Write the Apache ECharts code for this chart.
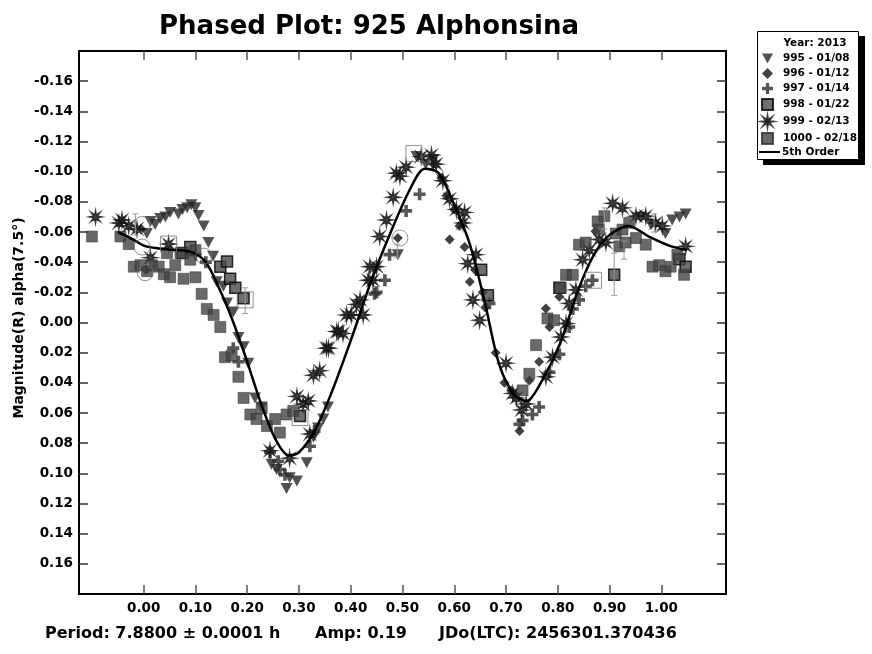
<!DOCTYPE html>
<html>
<head>
<meta charset="utf-8">
<script src="https://cdn.jsdelivr.net/npm/echarts@6/dist/echarts.min.js"></script>
<style>
html,body{margin:0;padding:0;background:#fff;}
#main{width:872px;height:654px;}
</style>
</head>
<body>
<div id="main"></div>
<script>
// phase / magnitude pairs
var pts995 = [[0.006,-0.059],[0.013,-0.067],[0.022,-0.065],[0.032,-0.069],[0.042,-0.070],[0.051,-0.073],[0.067,-0.072],[0.075,-0.075],
  [0.084,-0.076],[0.092,-0.078],[0.100,-0.076],[0.106,-0.071],[0.116,-0.064],[0.125,-0.053],[0.134,-0.044],[0.141,-0.027],
  [0.154,-0.024],[0.161,-0.013],[0.173,-0.007],[0.183,0.010],[0.193,0.016],[0.202,0.027],[0.215,0.050],[0.228,0.056],
  [0.247,0.094],[0.257,0.0975],[0.276,0.110],[0.282,0.103],[0.296,0.105],[0.315,0.093],[0.328,0.076],[0.337,0.070],
  [0.347,0.064],[0.356,0.056],[0.491,-0.045],[0.527,-0.110],[0.545,-0.105],[0.560,-0.108],[0.960,-0.070],[0.980,-0.065],
  [1.008,-0.059],[1.021,-0.068],[1.035,-0.070],[1.047,-0.072]];
var pts996 = [[-0.005,-0.062],[0.005,-0.035],[0.491,-0.056],[0.560,-0.105],[0.575,-0.096],[0.585,-0.084],[0.591,-0.055],
  [0.600,-0.075],[0.610,-0.064],[0.620,-0.050],[0.630,-0.027],[0.640,-0.035],[0.655,-0.020],[0.660,-0.010],[0.680,0.020],
  [0.697,0.040],[0.710,0.045],[0.726,0.072],[0.745,0.0385],[0.764,0.026],[0.777,-0.0093],[0.784,0.003],[0.803,-0.017],[0.873,-0.0605]];
var pts997 = [[0.100,-0.045],[0.120,-0.040],[0.173,0.017],[0.183,0.026],[0.244,0.086],[0.260,0.092],[0.263,0.0975],[0.273,0.101],
  [0.321,0.082],[0.330,0.072],[0.446,-0.019],[0.450,-0.020],[0.466,-0.028],[0.475,-0.045],[0.507,-0.074],[0.533,-0.085],
  [0.668,-0.0127],[0.726,0.0675],[0.732,0.065],[0.751,0.061],[0.764,0.056],[0.784,0.033],[0.803,0.021],[0.822,0.003],
  [0.829,-0.009],[0.841,-0.015],[0.854,-0.024],[0.867,-0.028]];
var pts998 = [[0.075,-0.046],[0.090,-0.050],[0.148,-0.037],[0.161,-0.0405],[0.167,-0.029],[0.177,-0.023],[0.193,-0.016],
  [0.302,0.062],[0.652,-0.035],[0.665,-0.018],[0.803,-0.023],[0.909,-0.0316],[1.035,-0.042],[1.047,-0.037]];
var pts999 = [[-0.093,-0.070],[-0.048,-0.066],[-0.042,-0.068],[-0.029,-0.064],[-0.013,-0.062],[0.013,-0.043],[0.048,-0.052],
  [0.244,0.085],[0.282,0.090],[0.296,0.049],[0.308,0.054],[0.318,0.052],[0.321,0.074],[0.328,0.035],[0.340,0.032],
  [0.353,0.017],[0.357,0.017],[0.373,0.006],[0.376,0.006],[0.385,0.0073],[0.392,-0.005],[0.401,-0.005],[0.411,-0.012],
  [0.418,-0.015],[0.424,-0.005],[0.434,-0.028],[0.437,-0.037],[0.443,-0.028],[0.450,-0.037],[0.456,-0.057],[0.469,-0.068],
  [0.482,-0.083],[0.488,-0.099],[0.495,-0.097],[0.507,-0.103],[0.536,-0.110],[0.556,-0.111],[0.565,-0.105],[0.578,-0.094],
  [0.591,-0.082],[0.604,-0.075],[0.617,-0.066],[0.620,-0.073],[0.626,-0.039],[0.636,-0.015],[0.642,-0.045],[0.649,-0.0015],
  [0.700,0.027],[0.713,0.047],[0.720,0.050],[0.730,0.058],[0.739,0.054],[0.777,0.036],[0.790,0.023],[0.806,0.0096],
  [0.816,0.0007],[0.822,-0.0127],[0.835,-0.0216],[0.848,-0.0416],[0.861,-0.048],[0.880,-0.055],[0.893,-0.053],[0.906,-0.079],
  [0.925,-0.076],[0.951,-0.0705],[0.970,-0.0705],[0.989,-0.066],[1.002,-0.064],[1.047,-0.0505]];
var pts1000 = [[-0.100,-0.057],[-0.045,-0.057],[-0.029,-0.052],[-0.019,-0.037],[-0.006,-0.038],[0.0065,-0.034],[0.016,-0.038],
  [0.029,-0.037],[0.039,-0.032],[0.045,-0.046],[0.051,-0.030],[0.061,-0.038],[0.071,-0.046],[0.077,-0.029],[0.090,-0.0416],
  [0.100,-0.030],[0.100,-0.048],[0.112,-0.019],[0.122,-0.009],[0.135,-0.005],[0.148,0.003],[0.157,0.023],[0.170,0.022],
  [0.183,0.036],[0.193,0.050],[0.206,0.061],[0.218,0.064],[0.228,0.057],[0.238,0.0686],[0.254,0.064],[0.263,0.073],
  [0.276,0.061],[0.289,0.0586],[0.732,0.045],[0.745,0.034],[0.758,0.015],[0.780,-0.0027],[0.793,-0.0015],[0.806,-0.023],
  [0.816,-0.0316],[0.829,-0.0316],[0.841,-0.0516],[0.854,-0.053],[0.877,-0.067],[0.880,-0.0616],[0.890,-0.0705],[0.912,-0.059],
  [0.919,-0.0505],[0.925,-0.0616],[0.931,-0.053],[0.938,-0.066],[0.951,-0.056],[0.970,-0.0516],[0.983,-0.037],[0.996,-0.038],
  [1.008,-0.034],[1.018,-0.037],[1.031,-0.045],[1.044,-0.0316]];
// 5th order fit curve
var fitPts = [[-0.050,-0.060],[-0.020,-0.055],[0.000,-0.051],[0.030,-0.049],[0.060,-0.048],[0.090,-0.047],[0.120,-0.040],
  [0.148,-0.021],[0.170,-0.003],[0.196,0.022],[0.225,0.052],[0.254,0.077],[0.280,0.088],[0.300,0.086],[0.330,0.072],
  [0.360,0.049],[0.400,0.012],[0.437,-0.025],[0.475,-0.058],[0.514,-0.088],[0.543,-0.102],[0.570,-0.099],[0.600,-0.078],
  [0.630,-0.052],[0.658,-0.015],[0.687,0.028],[0.716,0.048],[0.740,0.052],[0.764,0.042],[0.803,0.015],[0.840,-0.022],
  [0.870,-0.045],[0.900,-0.058],[0.937,-0.064],[0.976,-0.057],[1.015,-0.051],[1.050,-0.048]];
// flagged points (open rings / boxes) and error bars [x, lo, hi]
var ringPts = [[-0.003,-0.065],[-0.003,-0.050],[0.003,-0.033],[0.116,-0.044],[0.495,-0.056]];
var boxPts = [[0.048,-0.052],[0.196,-0.015],[0.302,0.063],[0.522,-0.112],[0.869,-0.028]];
var errBars = [[-0.016,-0.072,-0.058],[0.196,-0.023,-0.006],[0.490,-0.052,-0.043],[0.890,-0.076,-0.062],
  [0.909,-0.046,-0.018],[0.928,-0.054,-0.042],[0.986,-0.072,-0.060]];

var xTicks = [0,0.1,0.2,0.3,0.4,0.5,0.6,0.7,0.8,0.9,1.0];
var yTicks = [-0.16,-0.14,-0.12,-0.10,-0.08,-0.06,-0.04,-0.02,0,0.02,0.04,0.06,0.08,0.10,0.12,0.14,0.16];
var seriesNames = ['995 - 01/08','996 - 01/12','997 - 01/14','998 - 01/22','999 - 02/13','1000 - 02/18','5th Order'];

var FONT = '"DejaVu Sans", sans-serif';
var triPath = 'path://M0,0L10,0L5,9Z';
var plusPath = 'path://M3.5,0H6.5V3.5H10V6.5H6.5V10H3.5V6.5H0V3.5H3.5Z';
var starPath = 'path://M10,5L6.48,5.61L8.54,8.54L5.61,6.48L5,10L4.39,6.48L1.46,8.54L3.52,5.61L0,5L3.52,4.39L1.46,1.46L4.39,3.52L5,0L5.61,3.52L8.54,1.46L6.48,4.39Z';
var legendIcons = [triPath, 'diamond', plusPath, 'rect', starPath, 'rect'];

var myChart = echarts.init(document.getElementById('main'));

function fmt(v) { return (Math.abs(v) < 1e-9 ? 0 : v).toFixed(2); }

var option = {
    animation: false,
    backgroundColor: '#fff',
    grid: {
        left: 79, top: 51, right: 146, bottom: 60,
        show: true, borderColor: '#000', borderWidth: 2
    },
    legend: {
        orient: 'vertical',
        left: 756, top: 48,
        itemWidth: 11, itemHeight: 11, itemGap: 4.0,
        data: seriesNames.slice(0, 6).map(function (n, i) { return { name: n, icon: legendIcons[i] }; }),
        textStyle: { fontFamily: FONT, fontWeight: 'bold', fontSize: 10.5, lineHeight: 11, color: '#000', padding: [0, 0, 0, 5] }
    },
    graphic: [
        { type: 'rect', shape: { x: 763, y: 36, width: 102, height: 129 }, style: { fill: '#000' }, z: -1 },
        { type: 'rect', shape: { x: 757.5, y: 31.5, width: 101, height: 128 }, style: { fill: '#fff', stroke: '#000', lineWidth: 1 }, z: 0 },
        { type: 'text', x: 815, y: 43, style: { text: 'Year: 2013', fontFamily: FONT, fontWeight: 'bold', fontSize: 10.5, fill: '#000', align: 'center', verticalAlign: 'middle' }, z: 1 },
        { type: 'line', shape: { x1: 759, y1: 152, x2: 780, y2: 152 }, style: { stroke: '#000', lineWidth: 2 }, z: 1 },
        { type: 'text', x: 782, y: 152, style: { text: '5th Order', fontFamily: FONT, fontWeight: 'bold', fontSize: 10.5, fill: '#000', verticalAlign: 'middle' }, z: 1 },
        { type: 'text', x: 369, y: 27, style: { text: 'Phased Plot: 925 Alphonsina', fontFamily: FONT, fontWeight: 'bold', fontSize: 26, fill: '#000', align: 'center', verticalAlign: 'middle' } },
        { type: 'text', x: 19, y: 318, rotation: Math.PI / 2, style: { text: 'Magnitude(R) alpha(7.5°)', fontFamily: FONT, fontWeight: 'bold', fontSize: 14, fill: '#000', align: 'center', verticalAlign: 'middle' } },
        { type: 'text', x: 45, y: 634, style: { text: 'Period: 7.8800 ± 0.0001 h', fontFamily: FONT, fontWeight: 'bold', fontSize: 16, fill: '#000', verticalAlign: 'middle' } },
        { type: 'text', x: 315, y: 634, style: { text: 'Amp: 0.19', fontFamily: FONT, fontWeight: 'bold', fontSize: 16, fill: '#000', verticalAlign: 'middle' } },
        { type: 'text', x: 439, y: 634, style: { text: 'JDo(LTC): 2456301.370436', fontFamily: FONT, fontWeight: 'bold', fontSize: 16, fill: '#000', verticalAlign: 'middle' } }
    ],
    xAxis: [{
        type: 'value', position: 'bottom', min: -0.125, max: 1.125,
        splitLine: { show: false },
        axisLine: { show: true, onZero: false, lineStyle: { color: '#000', width: 2 } },
        axisTick: { show: true, inside: true, length: 9, customValues: xTicks, lineStyle: { color: '#555', width: 1.5 } },
        axisLabel: { customValues: xTicks, formatter: fmt, margin: 7, fontFamily: FONT, fontWeight: 'bold', fontSize: 13.5, color: '#000' }
    }, {
        type: 'value', position: 'top', min: -0.125, max: 1.125,
        splitLine: { show: false },
        axisLine: { show: true, onZero: false, lineStyle: { color: '#000', width: 2 } },
        axisTick: { show: true, inside: true, length: 9, customValues: xTicks, lineStyle: { color: '#555', width: 1.5 } },
        axisLabel: { show: false }
    }],
    yAxis: [{
        type: 'value', position: 'left', inverse: true, min: -0.18, max: 0.18,
        splitLine: { show: false },
        axisLine: { show: true, onZero: false, lineStyle: { color: '#000', width: 2 } },
        axisTick: { show: true, inside: true, length: 9, customValues: yTicks, lineStyle: { color: '#333', width: 1.5 } },
        axisLabel: { customValues: yTicks, formatter: fmt, margin: 6, fontFamily: FONT, fontWeight: 'bold', fontSize: 13.5, color: '#000' }
    }, {
        type: 'value', position: 'right', inverse: true, min: -0.18, max: 0.18,
        splitLine: { show: false },
        axisLine: { show: true, onZero: false, lineStyle: { color: '#000', width: 2 } },
        axisTick: { show: true, inside: true, length: 9, customValues: yTicks, lineStyle: { color: '#333', width: 1.5 } },
        axisLabel: { show: false }
    }],
    series: [
        { name: seriesNames[0], type: 'scatter', data: pts995, symbol: triPath, symbolSize: [12, 11],
          itemStyle: { color: '#262626' } },
        { name: seriesNames[1], type: 'scatter', data: pts996, symbol: 'diamond', symbolSize: 10,
          itemStyle: { color: '#111' } },
        { name: seriesNames[2], type: 'scatter', data: pts997, symbol: plusPath, symbolSize: 12,
          itemStyle: { color: '#2a2a2a' } },
        { name: seriesNames[3], type: 'scatter', data: pts998, symbol: 'rect', symbolSize: 11,
          itemStyle: { color: '#4a4a4a', borderColor: '#000', borderWidth: 1.5 } },
        { name: seriesNames[4], type: 'scatter', data: pts999, symbol: starPath, symbolSize: 14,
          itemStyle: { color: '#161616', borderColor: '#161616', borderWidth: 1.2 } },
        { name: seriesNames[5], type: 'scatter', data: pts1000, symbol: 'rect', symbolSize: 11,
          itemStyle: { color: '#434343', borderColor: '#2a2a2a', borderWidth: 0.6 } },
        { name: seriesNames[6], type: 'line', data: fitPts, smooth: 0.3, showSymbol: false, symbol: 'none',
          lineStyle: { color: '#000', width: 2.5 }, itemStyle: { color: '#000' }, z: 5 },
        { name: 'flag rings', type: 'scatter', data: ringPts, symbol: 'circle', symbolSize: 16,
          itemStyle: { color: 'rgba(0,0,0,0)', borderColor: '#777', borderWidth: 1 }, z: 6 },
        { name: 'flag boxes', type: 'scatter', data: boxPts, symbol: 'rect', symbolSize: 16,
          itemStyle: { color: 'rgba(0,0,0,0)', borderColor: '#777', borderWidth: 1 }, z: 6 },
        { name: 'errors', type: 'custom', data: errBars, z: 4,
          renderItem: function (params, api) {
              var lo = api.coord([api.value(0), api.value(1)]);
              var hi = api.coord([api.value(0), api.value(2)]);
              var st = { stroke: '#999', lineWidth: 1 };
              return { type: 'group', children: [
                  { type: 'line', shape: { x1: lo[0], y1: lo[1], x2: hi[0], y2: hi[1] }, style: st },
                  { type: 'line', shape: { x1: lo[0] - 3, y1: lo[1], x2: lo[0] + 3, y2: lo[1] }, style: st },
                  { type: 'line', shape: { x1: hi[0] - 3, y1: hi[1], x2: hi[0] + 3, y2: hi[1] }, style: st }
              ] };
          } }
    ]
};
myChart.setOption(option);
</script>
</body>
</html>
